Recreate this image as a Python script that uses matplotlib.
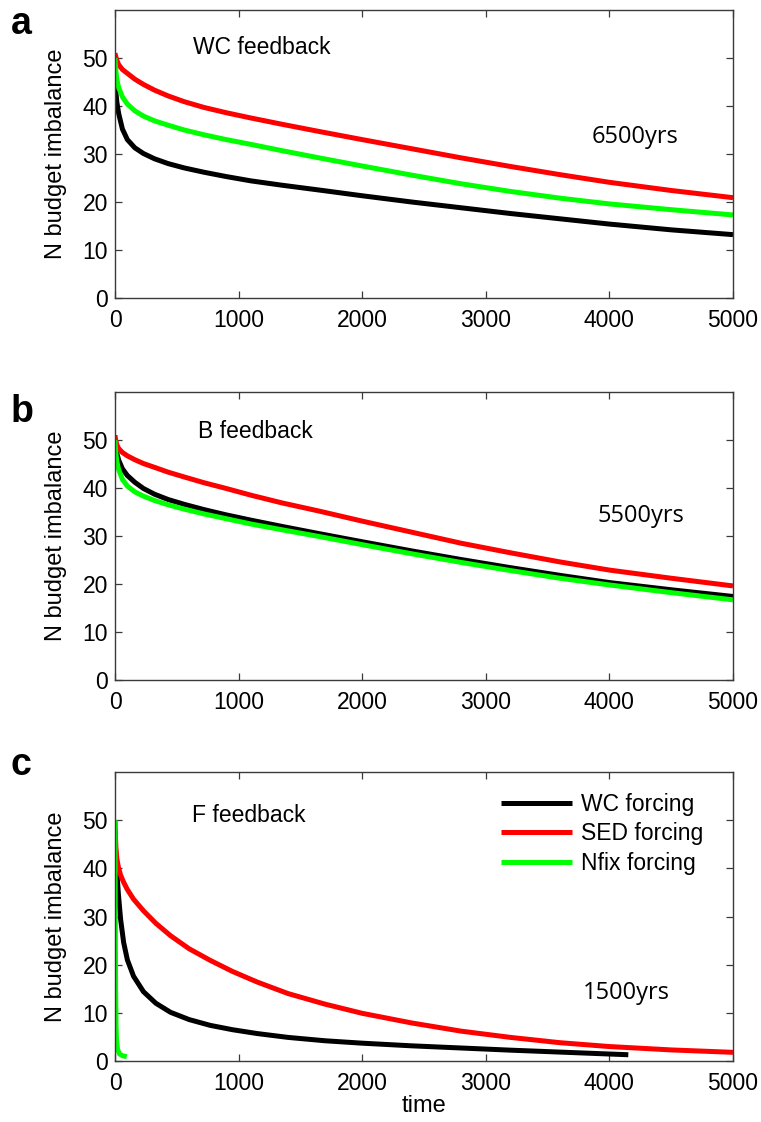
import matplotlib
matplotlib.use("Agg")
import matplotlib.pyplot as plt

# ---- data: N budget imbalance vs time for the three feedback runs ----
# common sampling times for panels a and b
t_ab = [0, 5, 15, 30, 60, 100, 160, 230, 320, 430, 560, 720, 900, 1100,
        1350, 1650, 2000, 2400, 2800, 3200, 3600, 4000, 4500, 5000]

# panel a: WC feedback
a_wc   = [45.5, 43.5, 40.8, 38.4, 35.2, 33.0, 31.3, 30.1, 29.0, 28.0, 27.1, 26.2,
          25.3, 24.4, 23.5, 22.5, 21.3, 20.0, 18.8, 17.6, 16.5, 15.4, 14.2, 13.2]
a_sed  = [51.0, 50.4, 49.5, 48.6, 47.6, 46.8, 45.6, 44.5, 43.3, 42.1, 40.9, 39.7,
          38.6, 37.5, 36.2, 34.7, 33.0, 31.1, 29.2, 27.4, 25.7, 24.1, 22.4, 20.9]
a_nfix = [50.0, 47.8, 45.5, 43.8, 41.9, 40.4, 39.0, 37.9, 36.9, 36.0, 35.0, 34.0,
          33.0, 32.0, 30.7, 29.2, 27.5, 25.6, 23.8, 22.2, 20.8, 19.6, 18.4, 17.3]

# panel b: B feedback
b_wc   = [50.0, 48.8, 47.2, 45.8, 44.0, 42.6, 41.2, 39.9, 38.7, 37.6, 36.6, 35.5,
          34.4, 33.3, 32.0, 30.5, 28.8, 26.9, 25.1, 23.4, 21.8, 20.3, 18.8, 17.4]
b_sed  = [51.0, 50.0, 49.0, 48.2, 47.4, 46.7, 45.9, 45.1, 44.3, 43.3, 42.3, 41.1,
          39.9, 38.5, 36.9, 35.2, 33.1, 30.8, 28.5, 26.5, 24.6, 22.9, 21.2, 19.6]
b_nfix = [50.0, 47.8, 45.5, 43.8, 41.8, 40.4, 39.2, 38.3, 37.4, 36.5, 35.6, 34.6,
          33.6, 32.5, 31.3, 29.9, 28.2, 26.3, 24.5, 22.8, 21.2, 19.8, 18.2, 16.7]

# panel c: F feedback
c_wc_t   = [0, 3, 8, 15, 27, 45, 70, 100, 150, 230, 330, 450, 600, 770, 950,
            1150, 1400, 1700, 2000, 2400, 2800, 3200, 3600, 4000, 4153]
c_wc     = [48.0, 45.0, 42.0, 39.3, 34.8, 29.5, 24.6, 21.0, 17.6, 14.4, 12.0, 10.1,
            8.6, 7.4, 6.5, 5.7, 4.9, 4.2, 3.7, 3.15, 2.7, 2.25, 1.85, 1.45, 1.3]
c_sed_t  = [0, 3, 8, 15, 27, 45, 70, 100, 150, 230, 330, 450, 600, 770, 950,
            1150, 1400, 1700, 2000, 2400, 2800, 3200, 3600, 4000, 4500, 5000]
c_sed    = [50.0, 47.0, 44.0, 42.0, 40.3, 38.6, 37.1, 35.6, 33.6, 31.2, 28.6, 26.0,
            23.3, 20.9, 18.6, 16.4, 14.0, 11.8, 9.9, 7.9, 6.2, 4.9, 3.8, 3.0, 2.3, 1.8]
c_nfix_t = [0, 2, 5, 8, 12, 20, 35, 60, 95]
c_nfix   = [50.0, 30.0, 15.0, 8.0, 4.4, 2.5, 1.5, 1.1, 0.9]

series_labels = ["WC forcing", "SED forcing", "Nfix forcing"]
series_colors = ["#000000", "#ff0000", "#00ff00"]
panel_titles = ["WC feedback", "B feedback", "F feedback"]
panel_letters = ["a", "b", "c"]
timescales = ["6500yrs", "5500yrs", "1500yrs"]
x_ticks = [0, 1000, 2000, 3000, 4000, 5000]
y_ticks = [0, 10, 20, 30, 40, 50]

panels = [
    [(t_ab, a_wc), (t_ab, a_sed), (t_ab, a_nfix)],
    [(t_ab, b_wc), (t_ab, b_sed), (t_ab, b_nfix)],
    [(c_wc_t, c_wc), (c_sed_t, c_sed), (c_nfix_t, c_nfix)],
]

W, H = 761, 1122
plt.rcParams["font.family"] = ["Liberation Sans", "DejaVu Sans"]
fig = plt.figure(figsize=(W / 100, H / 100), dpi=100)


def fx(px):
    return px / W


def fy(py):
    return 1 - py / H


# axes boxes in pixel units: (top, bottom)
ax_left, ax_right = 115, 733
boxes = [(10, 298), (392, 680), (772, 1061)]
title_pos = [(262, 48), (255, 432), (249, 815)]
scale_pos = [(635, 137), (641, 516), (626, 993)]
letter_pos = [(11, 34), (11, 422), (11, 775)]

spine_col = "#3a3a3a"
axes = []
for i, (top, bot) in enumerate(boxes):
    ax = fig.add_axes([fx(ax_left), fy(bot), fx(ax_right - ax_left), (bot - top) / H])
    axes.append(ax)
    for (t, y), col, lab in zip(panels[i], series_colors, series_labels):
        ax.plot(t, y, color=col, lw=3.6, label=lab, solid_capstyle="butt",
                solid_joinstyle="round")
    ax.set_xlim(0, 5000)
    ax.set_ylim(0, 60)
    ax.set_xticks(x_ticks)
    ax.set_yticks(y_ticks)
    ax.tick_params(direction="in", top=True, right=True, length=5, width=0.9,
                   color=spine_col, labelsize=16.5, labelcolor="black")
    ax.tick_params(axis="x", pad=8)
    ax.tick_params(axis="y", pad=5)
    for s in ax.spines.values():
        s.set_color(spine_col)
        s.set_linewidth(1.0)
    ax.set_ylabel("N budget imbalance", fontsize=17)
    ax.yaxis.set_label_coords((67 - ax_left) / (ax_right - ax_left), 0.5)

    tx, ty = title_pos[i]
    fig.text(fx(tx), fy(ty), panel_titles[i], fontsize=16.5, ha="center", va="center")
    sx, sy = scale_pos[i]
    fig.text(fx(sx), fy(sy), timescales[i], fontsize=17, ha="center", va="center",
             family=["Open Sans", "DejaVu Sans"])
    lx, ly = letter_pos[i]
    fig.text(fx(lx), fy(ly), panel_letters[i], fontsize=27, fontweight="bold",
             ha="left", va="baseline")

axes[2].set_xlabel("time", fontsize=17, labelpad=0)

axes[2].legend(loc="upper left", bbox_to_anchor=(fx(501), fy(793)),
               bbox_transform=fig.transFigure, frameon=False, fontsize=16.5,
               handlelength=3.1, handletextpad=0.4, labelspacing=0.28,
               borderpad=0, borderaxespad=0)

fig.savefig("out.png", dpi=100)
